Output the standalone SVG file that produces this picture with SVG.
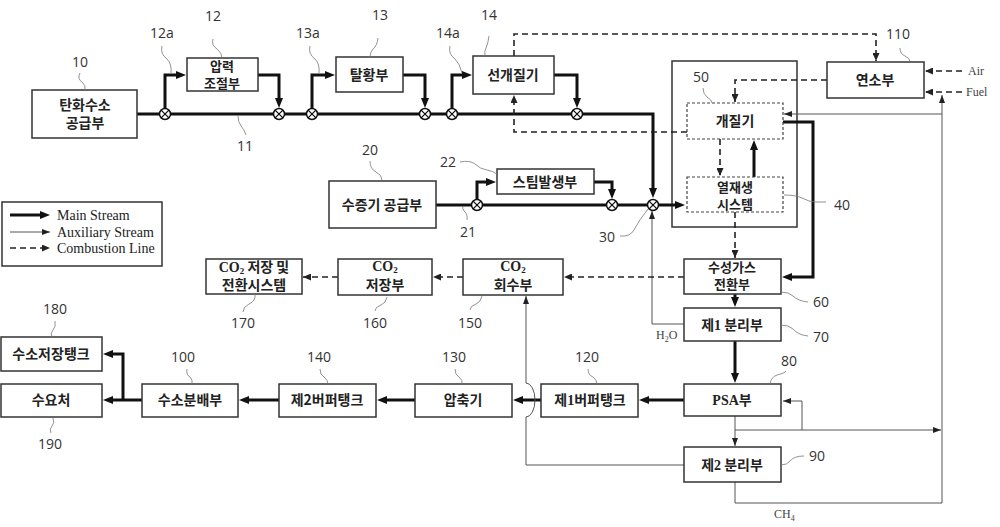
<svg xmlns="http://www.w3.org/2000/svg" width="1000" height="527" viewBox="0 0 1000 527">
<style>
.box{fill:#fff;stroke:#333;stroke-width:1.5}
.dbox{fill:#fff;stroke:#444;stroke-width:1.2;stroke-dasharray:3,2}
.main{fill:none;stroke:#111;stroke-width:3;marker-end:url(#mm)}
.mainn{fill:none;stroke:#111;stroke-width:3}
.aux{fill:none;stroke:#555;stroke-width:1;marker-end:url(#ma)}
.cmb{fill:none;stroke:#222;stroke-width:1.6;stroke-dasharray:6,4;marker-end:url(#mc)}
.kt{font-family:"Noto Sans CJK KR",sans-serif;font-weight:bold;font-size:14px;text-anchor:middle;fill:#222}
.k2{font-size:13px}
.ser{font-family:"Liberation Serif",serif}
.num{font-family:"Open Sans","Noto Sans",sans-serif;font-size:14px;text-anchor:middle;fill:#333}
.lg{font-family:"Liberation Serif",serif;font-size:14px;fill:#222}
.sm{font-family:"Liberation Serif",serif;font-size:12px;fill:#444}
.ld{fill:none;stroke:#777;stroke-width:0.8}
</style>
<defs>
<marker id="mm" viewBox="0 0 10 8" refX="5" refY="4" markerWidth="10" markerHeight="8" markerUnits="userSpaceOnUse" orient="auto"><path d="M0,0 L10,4 L0,8 z" fill="#111"/></marker>
<marker id="ma" viewBox="0 0 8 6" refX="8" refY="3" markerWidth="8" markerHeight="6" markerUnits="userSpaceOnUse" orient="auto"><path d="M0,0 L8,3 L0,6 z" fill="#222"/></marker>
<marker id="mc" viewBox="0 0 8 7" refX="8" refY="3.5" markerWidth="8" markerHeight="7" markerUnits="userSpaceOnUse" orient="auto"><path d="M0,0 L8,3.5 L0,7 z" fill="#222"/></marker>
<g id="v"><circle r="5.5" fill="#fff" stroke="#111" stroke-width="1.5"/><path d="M-3.9,-3.9 L3.9,3.9 M-3.9,3.9 L3.9,-3.9" stroke="#111" stroke-width="1.3"/></g>
</defs>
<rect width="1000" height="527" fill="#fff"/>

<g id="system-40-50"><rect class="box" x="672" y="61" width="125" height="166"/></g>

<g id="connectors">
<path class="main" d="M137,114 H653 V193"/>
<path class="main" d="M165,114 V75 H181"/>
<path class="main" d="M258,75 H279 V103"/>
<path class="main" d="M312,114 V75 H330"/>
<path class="main" d="M403,75 H425 V103"/>
<path class="main" d="M452,114 V75 H467"/>
<path class="main" d="M554,75 H577 V103"/>
<path class="mainn" d="M436,205 H653"/>
<path class="main" d="M477,205 V182 H491"/>
<path class="main" d="M594,182 H612 V194"/>
<path class="main" d="M658,205 H680"/>
<path class="main" d="M754,177 V145"/>
<path class="main" d="M783,122 H813 V277 H787"/>
<path class="main" d="M735,294 V302"/>
<path class="main" d="M735,341 V378"/>
<path class="main" d="M684,400 H644"/>
<path class="main" d="M541,400 H518"/>
<path class="main" d="M415,400 H382"/>
<path class="main" d="M279,400 H244"/>
<path class="main" d="M142,400 H108"/>
<path class="main" d="M123,400 V354 H108"/>
<path class="aux" d="M684,324 H652 V211"/>
<path class="aux" d="M684,465 H526 V417 A9,17 0 0 0 526,383 V296"/>
<path class="aux" d="M735,416 V446"/>
<path class="aux" d="M735,430 H941"/>
<path class="aux" d="M802,430 V401 H783"/>
<path class="aux" d="M735,482 V503 H942 V95"/>
<path class="aux" d="M942,114 H784"/>
<path class="cmb" d="M514,56 V34 H876 V61"/>
<path class="cmb" d="M687,132 H514 V95"/>
<path class="cmb" d="M827,80 H735 V102"/>
<path class="cmb" d="M962,71 H925"/>
<path class="cmb" d="M962,92 H925"/>
<path class="cmb" d="M720,139 V176"/>
<path class="cmb" d="M735,212 V258"/>
<path class="cmb" d="M684,277 H564"/>
<path class="cmb" d="M463,277 H433"/>
<path class="cmb" d="M338,277 H303"/>
</g>

<g id="valves">
<use href="#v" x="165" y="114"/><use href="#v" x="279" y="114"/>
<use href="#v" x="312" y="114"/><use href="#v" x="425" y="114"/>
<use href="#v" x="452" y="114"/><use href="#v" x="577" y="114"/>
<use href="#v" x="477" y="205"/><use href="#v" x="612" y="205"/>
<use href="#v" x="653" y="205"/>
</g>

<g id="n10"><rect class="box" x="32" y="90" width="105" height="48"/><text class="kt" x="85" y="110" font-size="15">탄화수소</text><text class="kt" x="85" y="128" font-size="15">공급부</text></g>
<g id="n12"><rect class="box" x="187" y="58" width="71" height="33"/><text class="kt k2" x="222" y="71">압력</text><text class="kt k2" x="222" y="88">조절부</text></g>
<g id="n13"><rect class="box" x="336" y="57" width="67" height="35"/><text class="kt" x="369" y="80">탈황부</text></g>
<g id="n14"><rect class="box" x="473" y="56" width="81" height="38"/><text class="kt" x="513" y="80">선개질기</text></g>
<g id="n20"><rect class="box" x="329" y="181" width="107" height="47"/><text class="kt" x="382" y="210">수증기 공급부</text></g>
<g id="n22"><rect class="box" x="497" y="169" width="97" height="25"/><text class="kt" x="545" y="187">스팀발생부</text></g>
<g id="n110"><rect class="box" x="827" y="62" width="97" height="36"/><text class="kt" x="875" y="85">연소부</text></g>
<g id="n50"><rect class="dbox" x="687" y="103" width="96" height="36"/><text class="kt" x="735" y="126">개질기</text></g>
<g id="n40"><rect class="dbox" x="687" y="177" width="96" height="35"/><text class="kt k2" x="735" y="192">열재생</text><text class="kt k2" x="735" y="209">시스템</text></g>
<g id="n60"><rect class="box" x="684" y="259" width="97" height="35"/><text class="kt k2" x="732" y="272">수성가스</text><text class="kt k2" x="732" y="289">전환부</text></g>
<g id="n70"><rect class="box" x="684" y="308" width="97" height="33"/><text class="kt" x="732" y="330">제<tspan class="ser">1</tspan> 분리부</text></g>
<g id="n80"><rect class="box" x="684" y="384" width="97" height="32"/><text class="kt" x="732" y="405"><tspan class="ser">PSA</tspan>부</text></g>
<g id="n90"><rect class="box" x="684" y="447" width="97" height="35"/><text class="kt" x="732" y="470">제<tspan class="ser">2</tspan> 분리부</text></g>
<g id="n150"><rect class="box" x="463" y="259" width="100" height="36"/><text class="kt" x="513" y="271"><tspan class="ser">CO</tspan><tspan class="ser" font-size="9" dy="2">2</tspan></text><text class="kt" x="513" y="290">회수부</text></g>
<g id="n160"><rect class="box" x="338" y="259" width="94" height="36"/><text class="kt" x="385" y="271"><tspan class="ser">CO</tspan><tspan class="ser" font-size="9" dy="2">2</tspan></text><text class="kt" x="385" y="290">저장부</text></g>
<g id="n170"><rect class="box" x="206" y="259" width="96" height="35"/><text class="kt" x="254" y="272"><tspan class="ser">CO</tspan><tspan class="ser" font-size="9" dy="2">2</tspan><tspan dy="-2"> 저장 및</tspan></text><text class="kt" x="254" y="290">전환시스템</text></g>
<g id="n120"><rect class="box" x="541" y="384" width="97" height="33"/><text class="kt" x="590" y="405">제<tspan class="ser">1</tspan>버퍼탱크</text></g>
<g id="n130"><rect class="box" x="415" y="384" width="97" height="33"/><text class="kt" x="463" y="405">압축기</text></g>
<g id="n140"><rect class="box" x="279" y="384" width="97" height="33"/><text class="kt" x="327" y="405">제2버퍼탱크</text></g>
<g id="n100"><rect class="box" x="142" y="384" width="96" height="33"/><text class="kt" x="190" y="405">수소분배부</text></g>
<g id="n180"><rect class="box" x="1" y="337" width="101" height="34"/><text class="kt" x="51" y="359">수소저장탱크</text></g>
<g id="n190"><rect class="box" x="1" y="384" width="101" height="33"/><text class="kt" x="51" y="405">수요처</text></g>

<g id="legend">
<rect class="box" x="2" y="202" width="160" height="64"/>
<path class="main" d="M10,215 H45"/>
<path class="aux" d="M10,232 H50"/>
<path class="cmb" d="M10,248 H50"/>
<text class="lg" x="57" y="220">Main Stream</text>
<text class="lg" x="57" y="237">Auxiliary Stream</text>
<text class="lg" x="57" y="253">Combustion Line</text>
</g>

<g id="side-labels">
<text class="sm" x="968" y="75">Air</text>
<text class="sm" x="966" y="96">Fuel</text>
<text class="sm" x="656" y="339">H<tspan font-size="8" dy="3">2</tspan><tspan dy="-3">O</tspan></text>
<text class="sm" x="774" y="518">CH<tspan font-size="8" dy="3">4</tspan></text>
</g>

<g id="ref-numbers">
<text class="num" x="80" y="67">10</text><path class="ld" d="M80,73 q-3,6 2,9 q4,3 3,8"/>
<text class="num" x="162" y="38">12a</text><path class="ld" d="M162,46 q-2,8 5,13 q5,5 4,14"/>
<text class="num" x="213" y="21">12</text><path class="ld" d="M213,39 q-2,6 4,10 q5,4 5,9"/>
<text class="num" x="245" y="151">11</text><path class="ld" d="M246,135 q-2,-6 -5,-9 q-3,-4 -3,-10"/>
<text class="num" x="308" y="38">13a</text><path class="ld" d="M310,46 q-2,8 5,13 q5,5 4,14"/>
<text class="num" x="380" y="20">13</text><path class="ld" d="M378,38 q-1,8 -5,11 q-3,3 -3,8"/>
<text class="num" x="448" y="38">14a</text><path class="ld" d="M450,46 q-2,8 5,13 q5,5 7,14"/>
<text class="num" x="489" y="20">14</text><path class="ld" d="M489,36 q-1,8 -3,12 q-2,3 -1,8"/>
<text class="num" x="898" y="39">110</text><path class="ld" d="M900,48 q0,6 5,8 q5,2 5,6"/>
<text class="num" x="701" y="82">50</text><path class="ld" d="M703,88 q0,6 4,9 q5,3 5,6"/>
<text class="num" x="842" y="210">40</text><path class="ld" d="M784,195 q12,0 18,3 q7,4 14,4 h10"/>
<text class="num" x="370" y="155">20</text><path class="ld" d="M370,161 q0,8 6,11 q6,3 6,8"/>
<text class="num" x="448" y="167">22</text><path class="ld" d="M460,162 q10,-2 15,2 q5,5 12,6 q6,1 10,4"/>
<text class="num" x="468" y="237">21</text><path class="ld" d="M467,220 q1,-6 -3,-9 q-2,-3 -1,-5"/>
<text class="num" x="607" y="242">30</text><path class="ld" d="M620,236 q10,1 14,-6 q5,-10 14,-21"/>
<text class="num" x="821" y="307">60</text><path class="ld" d="M781,292 q8,0 12,4 q5,5 15,6"/>
<text class="num" x="821" y="342">70</text><path class="ld" d="M781,325 q8,0 12,4 q5,6 15,7"/>
<text class="num" x="789" y="366">80</text><path class="ld" d="M770,384 q1,-7 7,-9 q8,-2 9,-4"/>
<text class="num" x="817" y="461">90</text><path class="ld" d="M781,465 q6,0 9,-4 q4,-5 14,-5"/>
<text class="num" x="243" y="328">170</text><path class="ld" d="M255,294 q1,7 -6,10 q-6,3 -6,8"/>
<text class="num" x="375" y="328">160</text><path class="ld" d="M387,297 q-1,6 -6,8 q-6,2 -6,6"/>
<text class="num" x="470" y="328">150</text><path class="ld" d="M482,296 q-1,6 -6,8 q-6,2 -6,6"/>
<text class="num" x="55" y="314">180</text><path class="ld" d="M55,321 q1,6 -2,9 q-3,3 -1,7"/>
<text class="num" x="50" y="449">190</text><path class="ld" d="M53,418 q2,5 -1,8 q-3,3 -1,7"/>
<text class="num" x="183" y="362">100</text><path class="ld" d="M187,369 q-1,6 3,8 q3,3 2,7"/>
<text class="num" x="319" y="362">140</text><path class="ld" d="M320,369 q0,6 4,8 q4,3 4,7"/>
<text class="num" x="454" y="362">130</text><path class="ld" d="M455,369 q0,6 4,8 q4,3 3,7"/>
<text class="num" x="587" y="362">120</text><path class="ld" d="M588,369 q0,6 5,8 q4,3 4,7"/>
</g>
</svg>
